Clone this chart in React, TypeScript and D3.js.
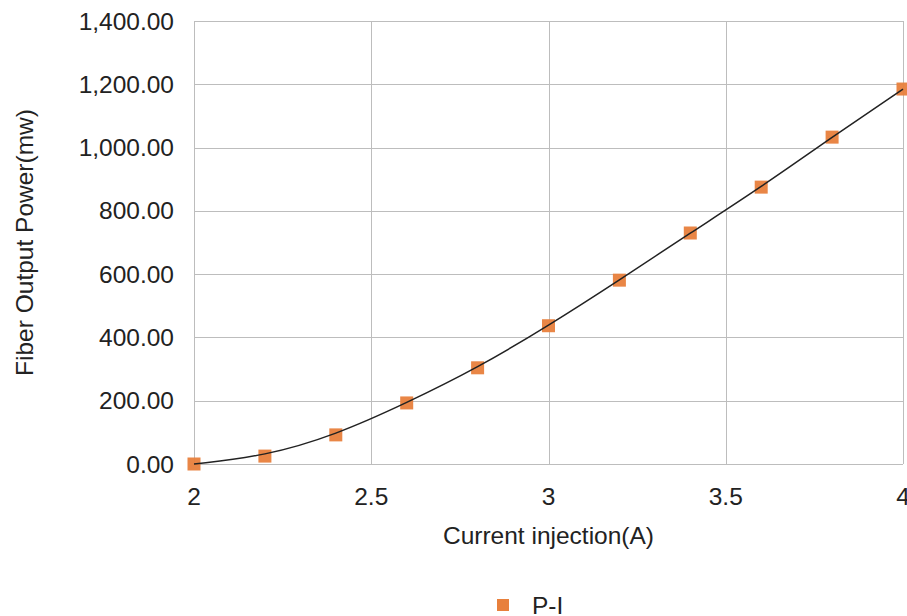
import React from 'react';
import * as d3 from 'd3';

const width = 907;
const height = 616;
const margin = {top: 21, right: 4, bottom: 152, left: 194};
const orange = '#e8803c';
const grid = '#bdbdbd';
const font = '"Liberation Sans", Arial, sans-serif';
const fontSize = 24.5;

const current = [2, 2.2, 2.4, 2.6, 2.8, 3, 3.2, 3.4, 3.6, 3.8, 4];
const power = [0, 25, 92, 193, 304, 437, 581, 730, 875, 1033, 1185];
const xTicks = [2, 2.5, 3, 3.5, 4];
const yTicks = [0, 200, 400, 600, 800, 1000, 1200, 1400];

const points = current.map((c, i) => ({x: c, y: power[i]}));

const App = () => {
  const xScale = d3.scaleLinear().domain([2, 4]).range([margin.left, width - margin.right]);
  const yScale = d3.scaleLinear().domain([0, 1400]).range([height - margin.bottom, margin.top]);
  const fmt = d3.format(',.2f');

  const trend = d3.line<{x: number; y: number}>()
    .x(d => xScale(d.x))
    .y(d => yScale(d.y))
    .curve(d3.curveBasis)(points);

  const plotBottom = height - margin.bottom;

  return (
    <svg width={width} height={height} style={{position: 'absolute', left: 0, top: 0, background: '#fff'}}>
      <g>
        {yTicks.map(t => (
          <line key={'gy' + t} x1={margin.left} x2={width - margin.right}
            y1={Math.round(yScale(t)) + 0.5} y2={Math.round(yScale(t)) + 0.5} stroke={grid} strokeWidth={1}/>
        ))}
        {xTicks.map(t => (
          <line key={'gx' + t} y1={margin.top} y2={plotBottom}
            x1={Math.round(xScale(t)) + 0.5} x2={Math.round(xScale(t)) + 0.5} stroke={grid} strokeWidth={1}/>
        ))}
      </g>
      <g fontFamily={font} fontSize={fontSize} fill="#222">
        {yTicks.map(t => (
          <text key={'ty' + t} x={margin.left - 20} y={yScale(t)} dy="0.35em" textAnchor="end">{fmt(t)}</text>
        ))}
        {xTicks.map(t => (
          <text key={'tx' + t} x={xScale(t)} y={plotBottom + 41} textAnchor="middle">{t}</text>
        ))}
        <text x={(margin.left + width - margin.right) / 2} y={plotBottom + 80} textAnchor="middle">Current injection(A)</text>
        <text transform={`translate(33, ${(margin.top + plotBottom) / 2}) rotate(-90)`} textAnchor="middle">Fiber Output Power(mw)</text>
      </g>
      <g>
        {points.map((d, i) => (
          <rect key={i} x={xScale(d.x) - 6.5} y={yScale(d.y) - 6.5} width={13} height={13} fill={orange} opacity={0.95}/>
        ))}
      </g>
      <path d={trend ?? ''} fill="none" stroke="#222" strokeWidth={1.5}/>
      <g fontFamily={font} fontSize={fontSize} fill="#222">
        <rect x={497} y={599} width={12} height={12} fill={orange}/>
        <text x={532} y={605} dy="0.35em">P-I</text>
      </g>
    </svg>
  );
};

export default App;
